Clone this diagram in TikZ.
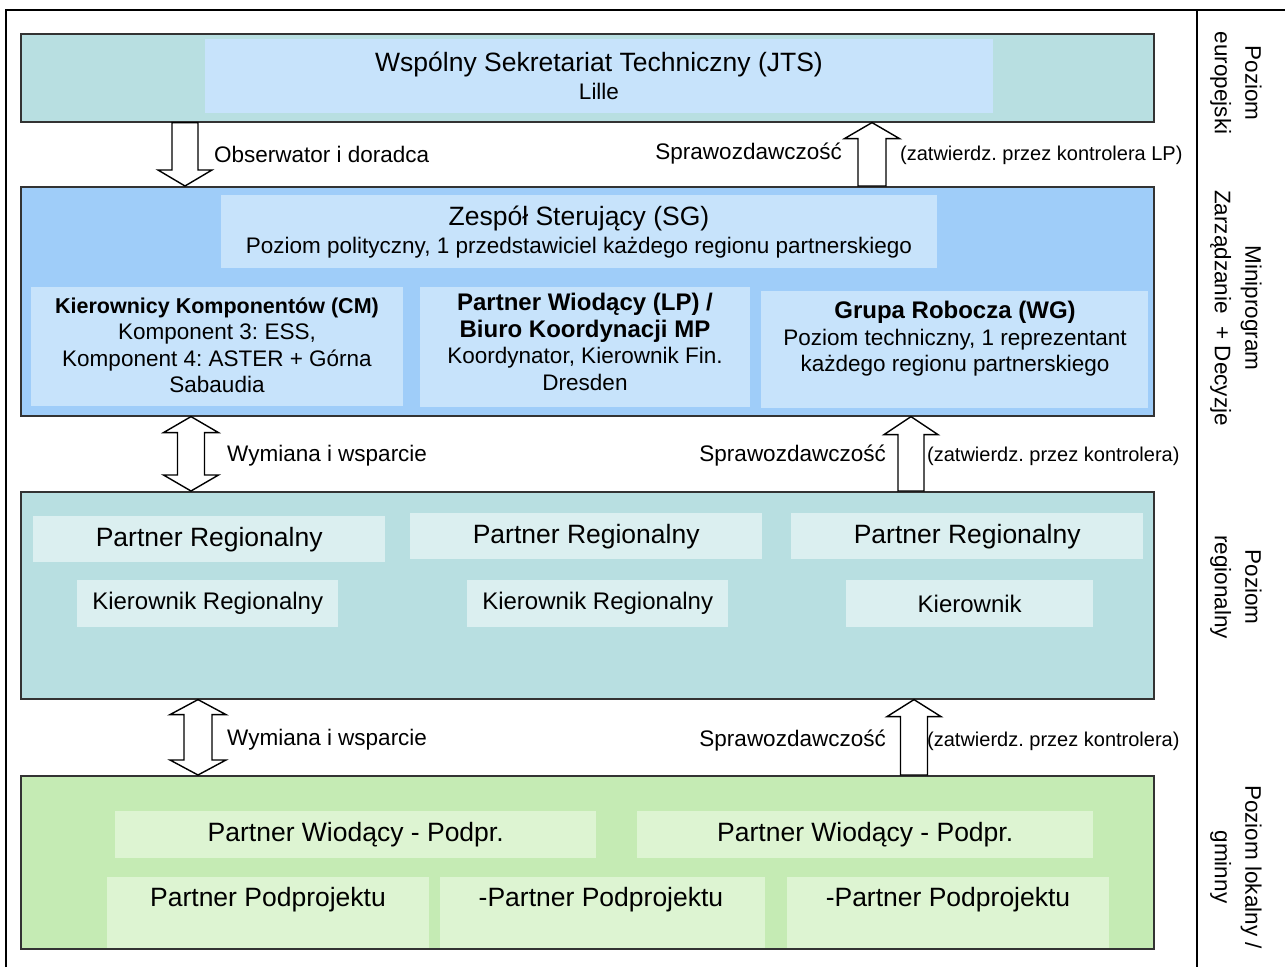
\documentclass[tikz,border=0pt]{standalone}
\usepackage{fontspec}
\setmainfont{Liberation Sans}
\usetikzlibrary{calc}
\frenchspacing
\definecolor{tealA}{HTML}{B8DFE1}
\definecolor{tealB}{HTML}{DBEFF0}
\definecolor{blueA}{HTML}{9FCDF9}
\definecolor{blueB}{HTML}{C7E3FB}
\definecolor{greenA}{HTML}{C5EBB4}
\definecolor{greenB}{HTML}{DDF4D2}
\newcommand{\blockarrow}[5]{\draw[blockarr] let \p1=(#1),\p2=(#2),\p3=($(#2)!#5!(#1)$) in
  (\x1-#3,\y1) -- (\x1-#3,\y3) -- (\x1-#4,\y3) -- (\x2,\y2) -- (\x1+#4,\y3) -- (\x1+#3,\y3) -- (\x1+#3,\y1) -- cycle;}
\newcommand{\blockarrows}[5]{\draw[blockarr] let \p1=(#1),\p2=(#2),\p3=($(#2)!#5!(#1)$),\p4=($(#1)!#5!(#2)$) in
  (\x1,\y1) -- (\x1+#4,\y4) -- (\x1+#3,\y4) -- (\x1+#3,\y3) -- (\x1+#4,\y3) -- (\x2,\y2)
  -- (\x1-#4,\y3) -- (\x1-#3,\y3) -- (\x1-#3,\y4) -- (\x1-#4,\y4) -- cycle;}
\begin{document}
\frenchspacing
\begin{tikzpicture}[x=1pt,y=-1pt,line join=miter,font=\fontsize{22.5}{26.5}\selectfont,
	tier/.style={draw=black!80,line width=1.6pt,anchor=north west,inner sep=0pt},
	inbox/.style={anchor=north west,inner sep=0pt,align=center},
	txt/.style={inner sep=0pt,align=center},
	big/.style={font=\fontsize{26.5}{28}\selectfont},
	mid/.style={font=\fontsize{24}{26}\selectfont},
	note/.style={font=\fontsize{20}{24}\selectfont},
	side/.style={rotate=-90,align=center,inner sep=0pt},
	blockarr/.style={draw=black,fill=white,line width=1.4pt}]
		\useasboundingbox (0,0) rectangle (1285,967);
		\draw[line width=1.6pt] (6,967) -- (6,10) -- (1285,10);
		\draw[line width=2.6pt] (1197,10) -- (1197,967);
		\node[tier,fill=tealA,minimum width=1133,minimum height=88] (jts) at (20,33) {};
		\node[tier,fill=blueA,minimum width=1133,minimum height=229] (sg) at (20,186) {};
		\node[tier,fill=tealA,minimum width=1133,minimum height=207] (reg) at (20,491) {};
		\node[tier,fill=greenA,minimum width=1133,minimum height=173] (loc) at (20,775) {};
		\node[inbox,fill=blueB,minimum width=788,minimum height=74] (jtsin) at (205,39) {};
		\node[inbox,fill=blueB,minimum width=716,minimum height=73] (sgin) at (221,195) {};
		\node[inbox,fill=blueB,minimum width=372,minimum height=119] (cm) at (31,287) {};
		\node[inbox,fill=blueB,minimum width=330,minimum height=120] (lp) at (420,287) {};
		\node[inbox,fill=blueB,minimum width=387,minimum height=117] (wg) at (761,291) {};
		\node[inbox,big,fill=tealB,minimum width=352,minimum height=46] (pr1) at (33,516) {Partner Regionalny};
		\node[inbox,big,fill=tealB,minimum width=352,minimum height=46] (pr2) at (410,513) {Partner Regionalny};
		\node[inbox,big,fill=tealB,minimum width=352,minimum height=46] (pr3) at (791,513) {Partner Regionalny};
		\node[inbox,mid,fill=tealB,minimum width=261,minimum height=47] (kr1) at (77,580) {Kierownik Regionalny};
		\node[inbox,mid,fill=tealB,minimum width=261,minimum height=47] (kr2) at (467,580) {Kierownik Regionalny};
		\node[inbox,mid,fill=tealB,minimum width=247,minimum height=47] (kr3) at (846,580) {Kierownik};
		\node[inbox,big,fill=greenB,minimum width=481,minimum height=47] (pwp1) at (115,811) {Partner Wiodący - Podpr.};
		\node[inbox,big,fill=greenB,minimum width=456,minimum height=47] (pwp2) at (637,811) {Partner Wiodący - Podpr.};
		\node[inbox,fill=greenB,minimum width=322,minimum height=71] (pp1) at (107,877) {};
		\node[inbox,fill=greenB,minimum width=325,minimum height=71] (pp2) at (440,877) {};
		\node[inbox,fill=greenB,minimum width=322,minimum height=71] (pp3) at (787,877) {};
		\node[txt] (jtsT) at (599,76) {{\fontsize{26.5}{28}\selectfont Wspólny Sekretariat Techniczny (JTS)}\\[1pt]Lille};
		\node[txt] (sgT) at (579,232) {{\fontsize{26.5}{28}\selectfont Zespół Sterujący (SG)}\\[1.5pt]Poziom polityczny, 1 przedstawiciel każdego regionu partnerskiego};
		\node[txt] (cmT) at (217,345) {{\fontsize{21.5}{26}\selectfont\bfseries Kierownicy Komponentów (CM)}\\Komponent 3: ESS,\\Komponent 4: ASTER + Górna\\Sabaudia};
		\node[txt] (lpT) at (585,342) {{\fontsize{24}{26}\selectfont\bfseries Partner Wiodący (LP) /}\\{\fontsize{24}{26}\selectfont\bfseries Biuro Koordynacji MP}\\Koordynator, Kierownik Fin.\\Dresden};
		\node[txt] (wgT) at (955,339) {{\fontsize{24}{26}\selectfont\bfseries Grupa Robocza (WG)}\\Poziom techniczny, 1 reprezentant\\każdego regionu partnerskiego};
		\node[txt,big] (pp1T) at (268,900) {Partner Podprojektu};
		\node[txt,big] (pp2T) at (601,900) {-Partner Podprojektu};
		\node[txt,big] (pp3T) at (948,900) {-Partner Podprojektu};
		\coordinate (c1) at (185,0);
		\coordinate (c2) at (872,0);
		\coordinate (c3) at (191,0);
		\coordinate (c4) at (911,0);
		\coordinate (c5) at (198,0);
		\coordinate (c6) at (914,0);
		\blockarrow{jts.south -| c1}{sg.north -| c1}{13pt}{27pt}{16pt}
		\blockarrow{sg.north -| c2}{jts.south -| c2}{14pt}{27.5pt}{16pt}
		\blockarrows{sg.south -| c3}{reg.north -| c3}{13.5pt}{27.5pt}{16pt}
		\blockarrow{reg.north -| c4}{sg.south -| c4}{13pt}{27pt}{18pt}
		\blockarrows{reg.south -| c5}{loc.north -| c5}{14pt}{28pt}{15pt}
		\blockarrow{loc.north -| c6}{reg.south -| c6}{13.5pt}{27pt}{17pt}
		\node[txt,anchor=west] (obs) at (214,154) {Obserwator i doradca};
		\node[txt,anchor=east] (spr1) at (842,154) {Sprawozdawczość};
		\node[txt,note,anchor=west] (zat1) at (900,155) {(zatwierdz. przez kontrolera LP)};
		\node[txt,anchor=west] (wym1) at (227,456) {Wymiana i wsparcie};
		\node[txt,anchor=east] (spr2) at (886,456) {Sprawozdawczość};
		\node[txt,note,anchor=west] (zat2) at (927,456) {(zatwierdz. przez kontrolera)};
		\node[txt,anchor=west] (wym2) at (227,740) {Wymiana i wsparcie};
		\node[txt,anchor=east] (spr3) at (886,741) {Sprawozdawczość};
		\node[txt,note,anchor=west] (zat3) at (927,741) {(zatwierdz. przez kontrolera)};
		\node[side] (eu) at (1236,83) {Poziom\\[4pt]europejski};
		\node[side] (mini) at (1236,308) {Miniprogram\\[4pt]Zarządzanie\ \ + Decyzje};
		\node[side] (regT) at (1236,587) {Poziom\\[4pt]regionalny};
		\node[side] (lok) at (1236,867) {Poziom lokalny /\\[4pt]gminny};
\end{tikzpicture}
\end{document}
